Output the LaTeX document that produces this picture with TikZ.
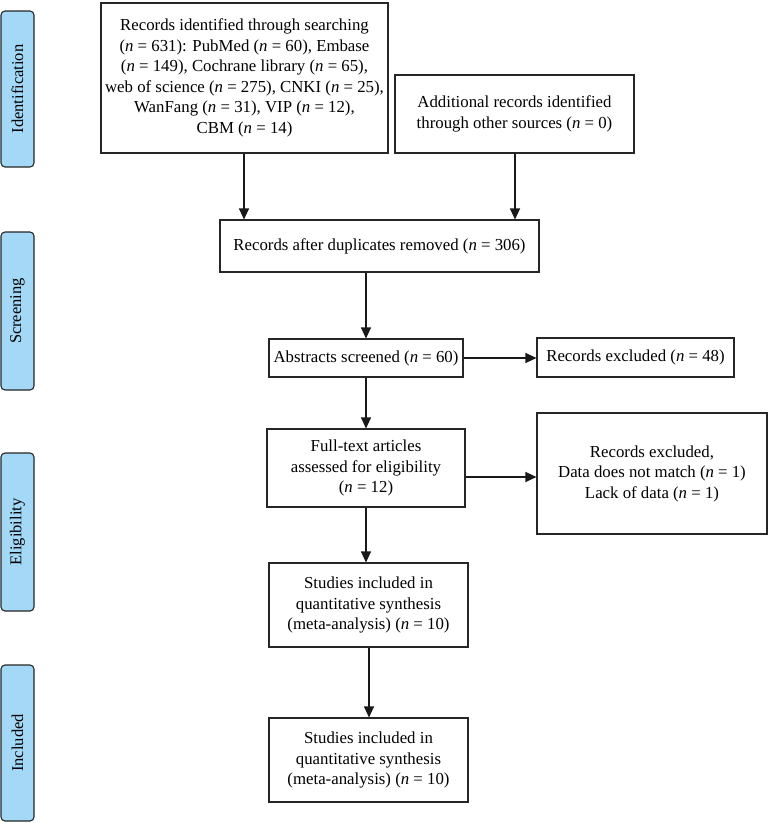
\documentclass[tikz,border=0pt]{standalone}
\usepackage{fontspec}
\setmainfont{Liberation Serif}
\usetikzlibrary{arrows.meta}
\newcommand{\nn}{\textit{n}}
\begin{document}
\begin{tikzpicture}[x=1pt,y=-1pt,
  box/.style={draw=black!85, line width=1.1pt, align=center, inner sep=1pt,
    font=\fontsize{16.8}{20.5}\selectfont},
  side/.style={draw=black!85, line width=1.1pt, fill=sideblue, rounded corners=4pt,
    minimum height=33pt, rotate=90, font=\fontsize{16.5}{18}\selectfont, inner sep=0pt},
  arr/.style={line width=1.1pt, draw=black!90, -{Triangle[length=11pt,width=10pt]}}]
\definecolor{sideblue}{HTML}{A3D8F6}
\useasboundingbox (0,0) rectangle (771,823);
% side labels
\node[side, minimum width=156pt] (id) at (17.5,89) {Identification};
\node[side, minimum width=158pt] (scr) at (17.5,311) {Screening};
\node[side, minimum width=158pt] (eli) at (17.5,532) {Eligibility};
\node[side, minimum width=156pt] (inc) at (17.5,743) {Included};
% boxes
\node[box, minimum width=287pt, minimum height=150pt] (b1) at (244.5,78)
  {Records identified through searching\\(\nn{} = 631): PubMed (\nn{} = 60), Embase\\(\nn{} = 149), Cochrane library (\nn{} = 65),\\web of science (\nn{} = 275), CNKI (\nn{} = 25),\\WanFang (\nn{} = 31), VIP (\nn{} = 12),\\CBM (\nn{} = 14)};
\node[box, minimum width=239pt, minimum height=78pt] (b2) at (514.5,114)
  {Additional records identified\\through other sources (\nn{} = 0)};
\node[box, minimum width=319pt, minimum height=52pt] (b3) at (379.5,246)
  {Records after duplicates removed (\nn{} = 306)};
\node[box, minimum width=194pt, minimum height=38pt] (b4) at (366,358)
  {Abstracts screened (\nn{} = 60)};
\node[box, minimum width=197pt, minimum height=39pt] (b5) at (635.5,357.5)
  {Records excluded (\nn{} = 48)};
\node[box, minimum width=198pt, minimum height=78pt] (b6) at (366,468)
  {Full-text articles\\assessed for eligibility\\(\nn{} = 12)};
\node[box, minimum width=230pt, minimum height=121pt] (b7) at (652,473.5)
  {Records excluded,\\Data does not match (\nn{} = 1)\\Lack of data (\nn{} = 1)};
\node[box, minimum width=199pt, minimum height=84pt] (b8) at (368.5,605)
  {Studies included in\\quantitative synthesis\\(meta-analysis) (\nn{} = 10)};
\node[box, minimum width=199pt, minimum height=84pt] (b9) at (368.5,760)
  {Studies included in\\quantitative synthesis\\(meta-analysis) (\nn{} = 10)};
% connectors
\draw[arr] ([xshift=-0.5pt]b1.south) -- ([xshift=-0.5pt]b1.south |- b3.north);
\draw[arr] ([xshift=0.5pt]b2.south) -- ([xshift=0.5pt]b2.south |- b3.north);
\draw[arr] (b3.south -| b4.north) -- (b4.north);
\draw[arr] (b4.south) -- (b6.north);
\draw[arr] (b6.south) -- (b6.south |- b8.north);
\draw[arr] ([xshift=0.5pt]b8.south) -- ([xshift=0.5pt]b9.north);
\draw[arr] (b4.east) -- (b4.east -| b5.west);
\draw[arr] (b6.east |- 0,477) -- (b7.west |- 0,477);
\end{tikzpicture}
\end{document}
